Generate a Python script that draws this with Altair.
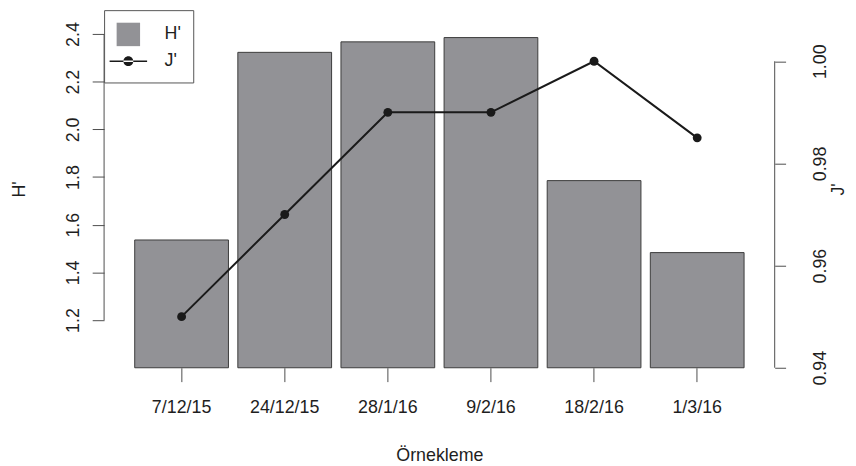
import altair as alt
import pandas as pd

# ---- data ----
dates = ["7/12/15", "24/12/15", "28/1/16", "9/2/16", "18/2/16", "1/3/16"]
h_values = [1.536, 2.323, 2.367, 2.385, 1.785, 1.483]
j_values = [0.950, 0.970, 0.990, 0.990, 1.000, 0.985]
h_ticks = [1.2, 1.4, 1.6, 1.8, 2.0, 2.2, 2.4]
j_ticks = [0.94, 0.96, 0.98, 1.00]
h_domain = [1.0, 2.5]
j_domain = [0.94, 1.01]
legend_names = ["H'", "J'"]

BAR_FILL = "#929296"
BAR_STROKE = "#3c3c3c"
LINE_COLOR = "#1a1a1a"
AXIS_COLOR = "#4d4d4d"
TEXT_COLOR = "#1e1e1e"
FONT = "Liberation Sans"
FS = 18
W, H = 677, 361

df = pd.DataFrame({"date": dates, "H": h_values, "J": j_values})
h_rule_df = pd.DataFrame({"lo": [min(h_ticks)], "hi": [max(h_ticks)]})
j_rule_df = pd.DataFrame({"lo": [min(j_ticks)], "hi": [max(j_ticks)]})
legend_df = pd.DataFrame({"series": legend_names})

x_enc = alt.X(
    "date:N",
    sort=dates,
    scale=alt.Scale(paddingInner=0.0909, paddingOuter=0.297),
    axis=alt.Axis(
        title="Örnekleme",
        domain=False,
        ticks=True,
        tickSize=14,
        labelPadding=17,
        labelAngle=0,
        titleY=94,
        titleBaseline="alphabetic",
        grid=False,
    ),
)

h_scale = alt.Scale(domain=h_domain, nice=False, zero=False)
j_scale = alt.Scale(domain=j_domain, nice=False, zero=False)

h_axis = alt.Axis(
    values=h_ticks,
    format=".1f",
    domain=False,
    tickSize=12,
    labelAngle=270,
    labelAlign="center",
    labelBaseline="alphabetic",
    labelPadding=14,
    title="H'",
    titleAngle=270,
    titleAlign="center",
    titleBaseline="middle",
    titleX=-85,
    titleY=H / 2,
    grid=False,
)
j_axis = alt.Axis(
    orient="right",
    values=j_ticks,
    format=".2f",
    domain=False,
    tickSize=11,
    labelAngle=270,
    labelAlign="center",
    labelBaseline="top",
    labelPadding=26,
    title="J'",
    titleAngle=270,
    titleAlign="center",
    titleBaseline="middle",
    titleX=64,
    titleY=H / 2,
    grid=False,
)

bars = alt.Chart(df).mark_bar(
    fill=BAR_FILL, stroke=BAR_STROKE, strokeWidth=1
).encode(
    x=x_enc,
    y=alt.Y("H:Q", scale=h_scale, axis=h_axis),
    y2=alt.datum(h_domain[0]),
)

h_rule = alt.Chart(h_rule_df).mark_rule(color=AXIS_COLOR, strokeWidth=1).encode(
    x=alt.value(0),
    y=alt.Y("lo:Q", scale=h_scale, axis=h_axis),
    y2="hi:Q",
)

jpath = (
    "M-1.6,-0.06H1.6V0.06H-1.6Z "
    "M-0.42,0A0.42,0.42 0 1,0 0.42,0A0.42,0.42 0 1,0 -0.42,0Z"
)
leg = alt.Legend(
    title=None,
    orient="top-left",
    offset=0,
    padding=12,
    strokeColor="#555555",
    fillColor="white",
    symbolSize=560,
    symbolStrokeColor="#222222",
    symbolStrokeWidth=1,
    symbolOpacity=1,
    labelOffset=24,
    labelFontSize=FS,
    labelFont=FONT,
    labelColor=TEXT_COLOR,
    rowPadding=0,
)
legend_layer = alt.Chart(legend_df).transform_filter("false").mark_point(
    filled=True
).encode(
    fill=alt.Fill(
        "series:N",
        scale=alt.Scale(domain=legend_names, range=[BAR_FILL, LINE_COLOR]),
        legend=leg,
    ),
    shape=alt.Shape(
        "series:N",
        scale=alt.Scale(domain=legend_names, range=["square", jpath]),
        legend=leg,
    ),
)

j_y = alt.Y("J:Q", scale=j_scale, axis=j_axis)

line = alt.Chart(df).mark_line(color=LINE_COLOR, strokeWidth=2).encode(x=x_enc, y=j_y)
points = alt.Chart(df).mark_point(filled=True, color=LINE_COLOR, size=80, opacity=1).encode(
    x=x_enc, y=j_y
)
j_rule = alt.Chart(j_rule_df).mark_rule(color=AXIS_COLOR, strokeWidth=1).encode(
    x=alt.value(W),
    y=alt.Y("lo:Q", scale=j_scale, axis=j_axis),
    y2="hi:Q",
)

left = alt.layer(bars, h_rule, legend_layer)
right = alt.layer(line, points, j_rule)

chart = (
    alt.layer(left, right)
    .resolve_scale(y="independent")
    .properties(
        width=W,
        height=H,
        padding={"left": 97, "top": 0, "right": 74, "bottom": 97},
        autosize=alt.AutoSizeParams(type="none"),
    )
    .configure_view(strokeWidth=0)
    .configure_axis(
        labelFont=FONT,
        labelFontSize=FS,
        labelColor=TEXT_COLOR,
        tickColor=AXIS_COLOR,
        tickWidth=1,
        titleFont=FONT,
        titleFontSize=FS,
        titleFontWeight="normal",
        titleColor=TEXT_COLOR,
    )
)

chart.save("out.html", embed_options={"renderer": "svg", "actions": False})
